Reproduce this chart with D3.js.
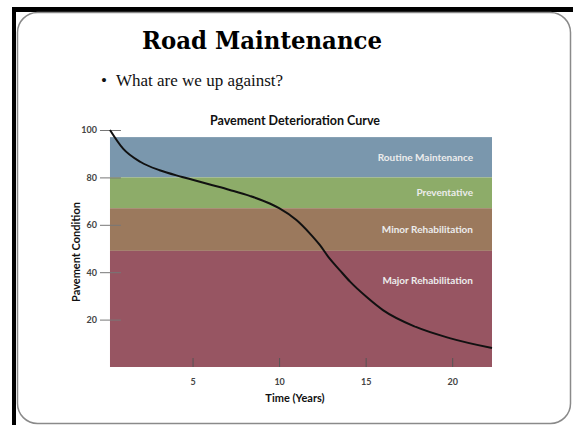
<!DOCTYPE html>
<html>
<head>
<meta charset="utf-8">
<script src="https://cdn.jsdelivr.net/npm/d3@7"></script>
<style>
  body { margin: 0; background: #fff; }
  svg { display: block; }
</style>
</head>
<body>
<div id="chart"></div>
<script>
// condition bands (value ranges on the y scale)
const bandNames = ["Routine Maintenance", "Preventative", "Minor Rehabilitation", "Major Rehabilitation"]
const bandTops = [97, 80, 67, 49]
const bandBottoms = [80, 67, 49, 0]
const bandColors = ["#7a97ad", "#8dac69", "#9b795d", "#975562"]

// deterioration curve
const years = [0.23, 1, 2, 3.1, 4.4, 5, 6, 7.15, 8.3, 9.46, 10, 11, 11.77, 12.35, 12.9, 13.5, 14.1, 15.06, 16, 17.9, 19.85, 22.3]
const condition = [100, 92, 86.5, 83, 80.2, 79, 77, 74.7, 72.2, 69, 67, 62, 56.4, 51.5, 45.9, 40.9, 36, 29.5, 24, 16.9, 12.2, 8]

const xTicks = [5, 10, 15, 20]
const yTicks = [20, 40, 60, 80, 100]

const width = 573, height = 425

const svg = d3.select("#chart").append("svg")
  .attr("width", width)
  .attr("height", height)

// slide frame
svg.append("rect").attr("x", 12).attr("y", 7).attr("width", 600).attr("height", 500).attr("fill", "#000")
svg.append("rect").attr("x", 16).attr("y", 12).attr("width", 600).attr("height", 500).attr("fill", "#fff")
svg.append("rect")
  .attr("x", 17.5).attr("y", 12.5)
  .attr("width", 553).attr("height", 411)
  .attr("rx", 20)
  .attr("fill", "#fff")
  .attr("stroke", "#8a8a8a")
  .attr("stroke-width", 1.5)

svg.append("text")
  .attr("x", 262).attr("y", 49)
  .attr("text-anchor", "middle")
  .attr("font-family", "DejaVu Serif")
  .attr("font-weight", "bold")
  .attr("font-size", "25px")
  .attr("textLength", 240)
  .attr("lengthAdjust", "spacingAndGlyphs")
  .attr("fill", "#000")
  .text("Road Maintenance")

svg.append("text")
  .attr("x", 101).attr("y", 86)
  .attr("font-family", "Liberation Serif")
  .attr("font-size", "17px")
  .attr("fill", "#111")
  .text("•")
svg.append("text")
  .attr("x", 116).attr("y", 86)
  .attr("font-family", "Liberation Serif")
  .attr("font-size", "17px")
  .attr("fill", "#111")
  .text("What are we up against?")

// chart
const x = d3.scaleLinear().domain([0, 22.3]).range([106, 492])
const y = d3.scaleLinear().domain([0, 100]).range([367, 130])
const x0 = x(years[0])

svg.append("text")
  .attr("x", 295).attr("y", 125)
  .attr("text-anchor", "middle")
  .attr("font-family", "Lato")
  .attr("font-weight", "bold")
  .attr("font-size", "12.5px")
  .attr("fill", "#111")
  .text("Pavement Deterioration Curve")

svg.selectAll(".band")
  .data(bandNames)
  .join("rect")
  .attr("class", "band")
  .attr("x", x0)
  .attr("width", x(22.3) - x0)
  .attr("y", (d, i) => y(bandTops[i]))
  .attr("height", (d, i) => y(bandBottoms[i]) - y(bandTops[i]))
  .attr("fill", (d, i) => bandColors[i])

const labelY = [88.5, 73.5, 58, 36.5]
svg.selectAll(".bandLabel")
  .data(bandNames)
  .join("text")
  .attr("class", "bandLabel")
  .attr("x", 473)
  .attr("y", (d, i) => y(labelY[i]))
  .attr("dy", "0.35em")
  .attr("text-anchor", "end")
  .attr("font-family", "Lato")
  .attr("font-weight", "bold")
  .attr("font-size", "10px")
  .attr("fill", "#ececec")
  .text(d => d)

// y axis ticks straddle the left edge
const yAxis = svg.append("g")
  .attr("transform", `translate(${x0 + 11},0)`)
  .call(d3.axisLeft(y).tickValues(yTicks).tickSize(21).tickPadding(3))
yAxis.select(".domain").remove()
yAxis.selectAll(".tick line").attr("stroke", "#777").attr("stroke-width", 1)
yAxis.selectAll("text")
  .attr("font-family", "Lato")
  .attr("font-weight", "bold")
  .attr("font-size", "9px")
  .attr("fill", "#444")

// x axis ticks point up into the plot
const xAxis = svg.append("g")
  .attr("transform", `translate(0,${y(0)})`)
  .call(d3.axisBottom(x).tickValues(xTicks).tickSize(-9).tickPadding(12))
xAxis.select(".domain").remove()
xAxis.selectAll(".tick line").attr("stroke", "#555").attr("stroke-width", 1)
xAxis.selectAll("text")
  .attr("font-family", "Lato")
  .attr("font-weight", "bold")
  .attr("font-size", "9px")
  .attr("fill", "#444")

svg.append("path")
  .datum(years.map((d, i) => [d, condition[i]]))
  .attr("fill", "none")
  .attr("stroke", "#111")
  .attr("stroke-width", 2)
  .attr("d", d3.line().x(d => x(d[0])).y(d => y(d[1])).curve(d3.curveMonotoneX))

svg.append("text")
  .attr("x", 295).attr("y", 402)
  .attr("text-anchor", "middle")
  .attr("font-family", "Lato")
  .attr("font-weight", "bold")
  .attr("font-size", "11px")
  .attr("fill", "#111")
  .text("Time (Years)")

svg.append("text")
  .attr("transform", "translate(80,252) rotate(-90)")
  .attr("text-anchor", "middle")
  .attr("font-family", "Lato")
  .attr("font-weight", "bold")
  .attr("font-size", "11px")
  .attr("fill", "#111")
  .text("Pavement Condition")
</script>
</body>
</html>
